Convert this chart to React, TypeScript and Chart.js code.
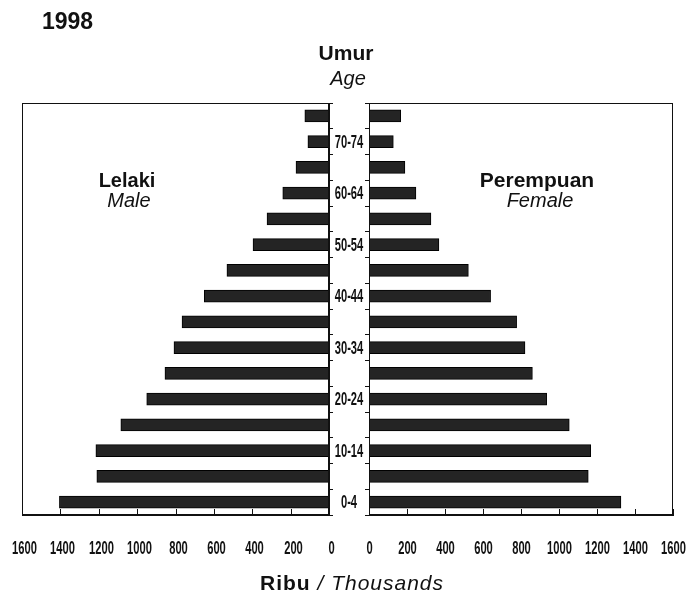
import React, { useEffect, useRef } from 'react';
import Chart from 'chart.js/auto';

const ageGroups = ['0-4', '5-9', '10-14', '15-19', '20-24', '25-29', '30-34', '35-39', '40-44', '45-49', '50-54', '55-59', '60-64', '65-69', '70-74', '75+'];
const maleValues = [1405, 1210, 1215, 1085, 950, 855, 808, 766, 650, 532, 396, 323, 241, 172, 110, 126];
const femaleValues = [1326, 1154, 1167, 1054, 935, 860, 821, 777, 640, 523, 368, 326, 247, 189, 128, 167];
const xTickValues = [0, 200, 400, 600, 800, 1000, 1200, 1400, 1600];

const INK = '#111111';
const BAR = '#242424';
const LABEL_FONT = "bold 18px 'Liberation Sans', Arial, sans-serif";
const SQUEEZE = 0.62;

// frame around each plot area
const framePlugin = {
  id: 'frame',
  afterDraw(chart: any) {
    const { ctx, chartArea } = chart;
    const l = Math.round(chartArea.left) + 0.5;
    const t = Math.round(chartArea.top) + 0.5;
    const r = Math.round(chartArea.right) - 0.5;
    const b = Math.round(chartArea.bottom) - 0.5;
    ctx.save();
    ctx.strokeStyle = INK;
    ctx.lineWidth = 1;
    ctx.strokeRect(l, t, r - l, b - t);
    ctx.restore();
  },
};

function condensedText(ctx: CanvasRenderingContext2D, text: string, x: number, y: number) {
  ctx.save();
  ctx.translate(x, y);
  ctx.scale(SQUEEZE, 1);
  ctx.fillText(text, 0, 0);
  ctx.restore();
}

// condensed tick labels and inner tick marks, positioned by the chart's own scales
const labelPlugin = {
  id: 'condensedLabels',
  afterDraw(chart: any, _args: any, opts: any) {
    const { ctx, chartArea, scales } = chart;
    const xs = scales.x;
    const ys = scales.y;
    ctx.save();
    ctx.strokeStyle = INK;
    ctx.fillStyle = INK;
    ctx.lineWidth = 1;
    ctx.font = LABEL_FONT;
    ctx.textAlign = 'center';
    ctx.textBaseline = 'middle';
    xTickValues.forEach((v) => {
      const px = Math.round(xs.getPixelForValue(v)) + 0.5;
      ctx.beginPath();
      ctx.moveTo(px, chartArea.bottom);
      ctx.lineTo(px, chartArea.bottom - 6);
      ctx.stroke();
      condensedText(ctx, String(v), px + (opts.labelShift || 0), chartArea.bottom + 34);
    });
    if (opts.showAges) {
      const cx = chartArea.right + 20;
      ageGroups.forEach((g, i) => {
        if (i % 2 !== 0) return;
        condensedText(ctx, g, cx, ys.getPixelForValue(i) + 1);
      });
    }
    ctx.restore();
  },
};

function makeChart(canvas: HTMLCanvasElement, values: number[], side: 'left' | 'right') {
  const isLeft = side === 'left';
  return new Chart(canvas, {
    type: 'bar',
    data: {
      labels: ageGroups,
      datasets: [{
        data: values,
        backgroundColor: BAR,
        borderColor: '#000000',
        borderWidth: 1,
        barThickness: 12,
      }],
    },
    options: {
      indexAxis: 'y',
      responsive: false,
      animation: false,
      events: [],
      layout: { padding: isLeft ? { left: 22, top: 103, right: 0, bottom: 0 } : { left: 0, top: 103, right: 15, bottom: 0 } },
      plugins: {
        legend: { display: false },
        tooltip: { enabled: false },
        condensedLabels: { showAges: isLeft, labelShift: isLeft ? 2 : 0 },
      },
      scales: {
        x: {
          type: 'linear',
          reverse: isLeft,
          min: 0,
          max: 1600,
          position: 'bottom',
          afterBuildTicks: (s: any) => { s.ticks = xTickValues.map((v) => ({ value: v })); },
          afterFit: (s: any) => { s.height = 85; s.paddingLeft = 0; s.paddingRight = 0; },
          grid: { drawOnChartArea: false, drawTicks: false },
          border: { display: true, color: INK, width: 1 },
          ticks: { display: false },
        },
        y: {
          type: 'category',
          reverse: true,
          position: isLeft ? 'right' : 'left',
          afterFit: (s: any) => { s.width = isLeft ? 40 : 20; s.paddingTop = 0; s.paddingBottom = 0; },
          grid: { drawOnChartArea: false, drawTicks: true, tickLength: 4, color: INK, offset: true },
          border: { display: true, color: INK, width: 1 },
          ticks: { display: false },
        },
      },
    },
    plugins: [framePlugin, labelPlugin],
  } as any);
}

const textBase: React.CSSProperties = {
  position: 'absolute',
  fontFamily: "'Liberation Sans', Arial, Helvetica, sans-serif",
  color: INK,
  whiteSpace: 'nowrap',
  lineHeight: 1,
};

function Label({ x, top, size, bold, italic, children, center = true }: any) {
  return (
    <div
      style={{
        ...textBase,
        left: x,
        top,
        fontSize: size,
        fontWeight: bold ? 'bold' : 'normal',
        fontStyle: italic ? 'italic' : 'normal',
        transform: center ? 'translateX(-50%)' : undefined,
      }}
    >
      {children}
    </div>
  );
}

export default function App() {
  const leftRef = useRef<HTMLCanvasElement>(null);
  const rightRef = useRef<HTMLCanvasElement>(null);

  useEffect(() => {
    const a = makeChart(leftRef.current!, maleValues, 'left');
    const b = makeChart(rightRef.current!, femaleValues, 'right');
    return () => { a.destroy(); b.destroy(); };
  }, []);

  return (
    <div style={{ position: 'absolute', left: 0, top: 0, width: 688, height: 600, background: '#fff', overflow: 'hidden' }}>
      <canvas ref={leftRef} width={369} height={600} style={{ position: 'absolute', left: 0, top: 0 }} />
      <canvas ref={rightRef} width={339} height={600} style={{ position: 'absolute', left: 349, top: 0 }} />
      <Label x={42} top={10} size={23} bold center={false}>1998</Label>
      <Label x={346} top={42} size={21} bold>Umur</Label>
      <Label x={348} top={68} size={20} italic>Age</Label>
      <Label x={127} top={170} size={20} bold>Lelaki</Label>
      <Label x={129} top={190} size={20} italic>Male</Label>
      <Label x={537} top={169} size={21} bold>Perempuan</Label>
      <Label x={540} top={190} size={20} italic>Female</Label>
      <div style={{ ...textBase, left: 352, top: 572, fontSize: 21, transform: 'translateX(-50%)', letterSpacing: 1 }}>
        <span style={{ fontWeight: 'bold' }}>Ribu</span>
        <span style={{ fontStyle: 'italic' }}> / Thousands</span>
      </div>
    </div>
  );
}
